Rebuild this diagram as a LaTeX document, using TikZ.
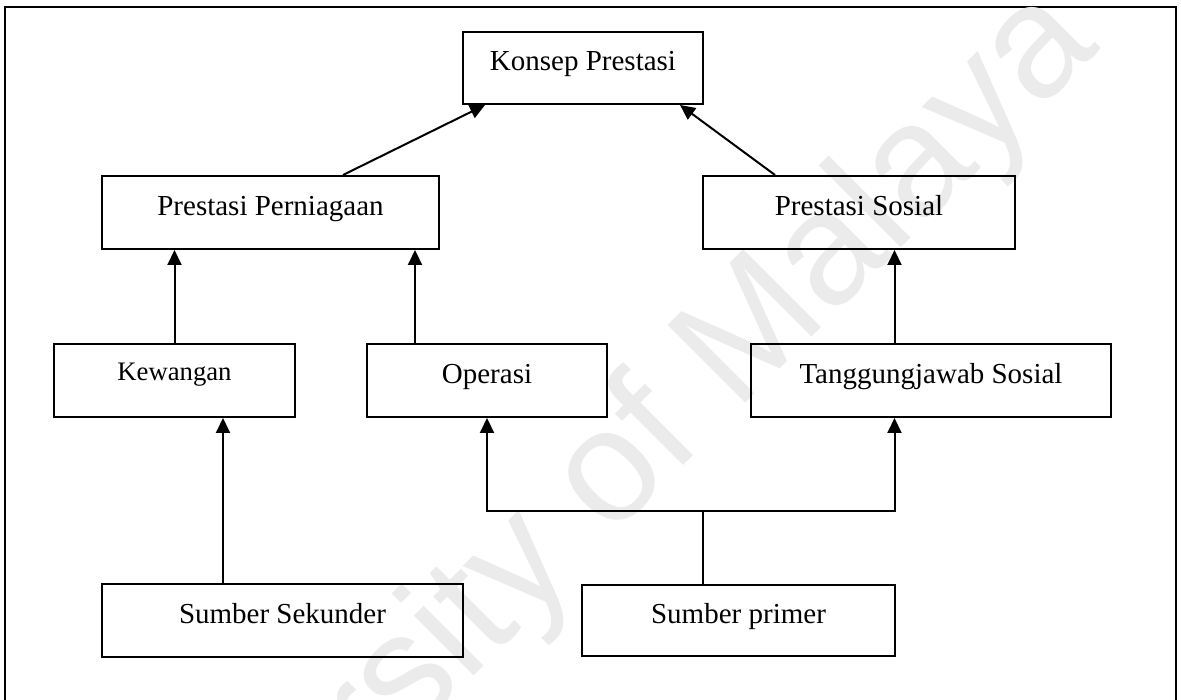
\documentclass[tikz,border=0pt]{standalone}
\usepackage{fontspec}
\setmainfont{Liberation Serif}
\newfontfamily\wmfont{Liberation Sans}
\usetikzlibrary{arrows.meta}

\begin{document}
\begin{tikzpicture}[x=1pt, y=-1pt,
  box/.style={draw, line width=2pt, inner sep=0pt, minimum height=73pt,
    font=\fontsize{29}{34}\selectfont, text height=20pt, text depth=14pt},
  smallbox/.style={box, font=\fontsize{26.7}{32}\selectfont, text height=17pt, text depth=16pt},
  link/.style={line width=2pt},
  arrowlink/.style={link, -{Triangle[length=15pt, width=14pt]}}]

  % page area and outer frame (open at the bottom)
  \useasboundingbox (0,0) rectangle (1181,700);
  \draw[line width=2pt] (5,700) -- (5,7) -- (1176,7) -- (1176,700);

  % faint diagonal watermark
  \node[rotate=45, text=black!8, font=\wmfont\fontsize{160}{170}\selectfont] (wm) at (563,528) {University of Malaya};

  % boxes
  \node[box, minimum width=240pt, minimum height=72pt] (konsep) at (583,68) {Konsep Prestasi};
  \node[box, minimum width=337pt] (pp) at (270.5,212.5) {Prestasi Perniagaan};
  \node[box, minimum width=312pt] (ps) at (859,212.5) {Prestasi Sosial};
  \node[smallbox, minimum width=241pt] (kew) at (174.5,380.5) {Kewangan};
  \node[box, minimum width=240pt] (ops) at (487,380.5) {Operasi};
  \node[box, minimum width=360pt] (tj) at (931,380.5) {Tanggungjawab Sosial};
  \node[box, minimum width=361pt] (ss) at (282.5,620.5) {Sumber Sekunder};
  \node[box, minimum width=313pt, minimum height=71pt] (sp) at (738.5,620.5) {Sumber primer};

  % upper links
  \draw[arrowlink] ([xshift=72.5pt]pp.north) -- ([xshift=-98pt]konsep.south);
  \draw[arrowlink] ([xshift=-84pt]ps.north) -- ([xshift=97pt]konsep.south);

  % middle links
  \draw[arrowlink] (kew.north) -- (kew.north |- pp.south);
  \draw[arrowlink] ([xshift=-72pt]ops.north) -- ([xshift=-72pt]ops.north |- pp.south);
  \draw[arrowlink] ([xshift=-36.5pt]tj.north) -- ([xshift=-36.5pt]tj.north |- ps.south);

  % lower links
  \draw[arrowlink] ([xshift=-59.5pt]ss.north) -- ([xshift=-59.5pt]ss.north |- kew.south);
  \coordinate (split) at (703,511);
  \draw[link] ([xshift=-35.5pt]sp.north) -- (split);
  \draw[arrowlink] (split) -| (ops.south);
  \draw[arrowlink] (split) -| ([xshift=-36.5pt]tj.south);
\end{tikzpicture}
\end{document}
